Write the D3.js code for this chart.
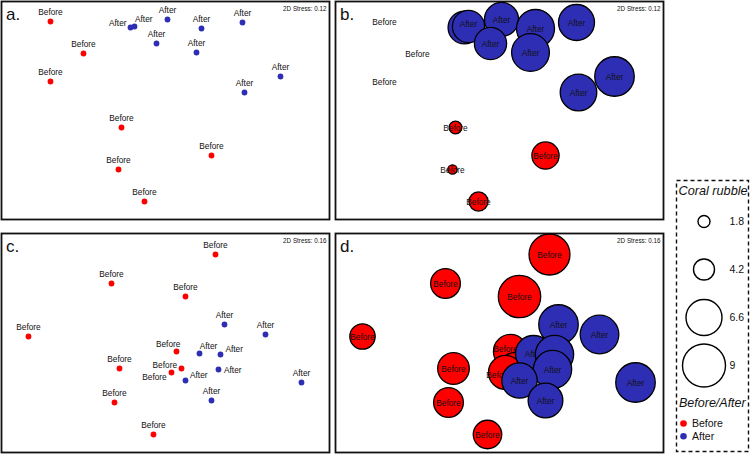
<!DOCTYPE html>
<html><head><meta charset="utf-8">
<script src="https://cdn.jsdelivr.net/npm/d3@7"></script>
<style>body{margin:0;background:#fff}svg{display:block}text{font-family:"Liberation Sans",Arial,sans-serif}</style>
</head><body>
<svg id="chart" width="750" height="454"></svg>
<script>
// ---- Data (nMDS coordinates, estimated from figure) ----
const groups = ["Before","After"];
// Top row (panels a & b): MDS ordination, stress 0.12
const topGroup = ["Before","Before","Before","Before","Before","Before","Before",
                  "After","After","After","After","After","After","After","After","After"];
const topMDS1 = [-1.15,-0.82,-1.15,-0.44,0.46,-0.47,-0.21, -0.35,-0.31,0.02,-0.09,0.36,0.31,0.77,1.15,0.79];
const topMDS2 = [0.89,0.57,0.29,-0.17,-0.45,-0.59,-0.91, 0.83,0.84,0.91,0.67,0.82,0.58,0.88,0.34,0.18];
const topRubble = [0,0,0,2.0,5.2,1.4,3.7, 6.1,6.0,6.3,6.0,7.3,7.2,6.6,7.8,6.8];
// Bottom row (panels c & d): MDS ordination, stress 0.16
const botGroup = ["Before","Before","Before","Before","Before","Before","Before","Before","Before","Before",
                  "After","After","After","After","After","After","After","After"];
const botMDS1 = [0.50,-0.54,0.20,-1.37,0.11,-0.46,0.16,0.06,-0.51,-0.12, 0.59,1.00,0.34,0.55,0.53,0.20,1.36,0.46];
const botMDS2 = [0.88,0.59,0.46,0.06,-0.09,-0.26,-0.26,-0.30,-0.60,-0.92, 0.18,0.08,-0.11,-0.12,-0.27,-0.38,-0.40,-0.58];
const botRubble = [8.3,5.6,8.8,4.9,6.3,5.9,6.0,6.3,5.6,5.4, 7.8,7.5,6.6,7.4,7.4,6.5,7.8,6.4];
const stressLabels = ["2D Stress: 0.12","2D Stress: 0.12","2D Stress: 0.16","2D Stress: 0.16"];
const panelLetters = ["a.","b.","c.","d."];
const legendSizes = [1.8,4.2,6.6,9];
const legendTitle = "Coral rubble";
const legendGroupTitle = "Before/After";

// ---- Styling / layout ----
const colors = {Before:"#ff0000", After:"#2e2eb4"};
const svg = d3.select("#chart");
const rScale = d3.scaleLinear().domain([0,1.8,4.2,6.6,9]).range([0,6,10.5,18,21.5]);

// label nudges (pixels) for crowded points: [dx, dy of label centre]
const nudgeA = {7:[-12.7,-4.7], 8:[9.3,-8]};
const nudgeB = {7:[0.5,4.7], 8:[0,-3]};
const nudgeC = {4:[-8.3,-7.3], 6:[-16.7,-4], 7:[-17,4], 12:[9,-7.7], 13:[13.7,-5.7], 14:[14.3,0], 15:[13.3,-5.7]};
const nudgeD = {4:[-5,-2.5], 6:[-1.7,-2.8], 7:[-7,2.2]};

const panels = [
  {x:1.5, y:1.5, w:328, h:218, g:topGroup, m1:topMDS1, m2:topMDS2, size:null, nudge:nudgeA},
  {x:335.5, y:1.5, w:328, h:218, g:topGroup, m1:topMDS1, m2:topMDS2, size:topRubble, nudge:nudgeB},
  {x:1.5, y:233.5, w:328, h:219, g:botGroup, m1:botMDS1, m2:botMDS2, size:null, nudge:nudgeC},
  {x:335.5, y:233.5, w:328, h:219, g:botGroup, m1:botMDS1, m2:botMDS2, size:botRubble, nudge:nudgeD}
];

panels.forEach((p,i)=>{
  const g = svg.append("g").attr("transform",`translate(${p.x},${p.y})`);
  const xs = d3.scaleLinear().domain([-1.64,1.64]).range([0,328]);
  const ys = d3.scaleLinear().domain([1.09,-1.09]).range([0,218]);
  g.append("rect").attr("width",p.w).attr("height",p.h).attr("fill","#fff")
    .attr("stroke","#111").attr("stroke-width",1.8);
  const data = p.m1.map((v,k)=>({k, grp:p.g[k], x:xs(v), y:ys(p.m2[k]), s:p.size?p.size[k]:null}));
  const order = p.size ? data.filter(d=>d.grp==="Before").concat(data.filter(d=>d.grp==="After")) : data;
  order.forEach(d=>{
    const n = p.nudge[d.k] || [0,0];
    if(p.size){
      if(d.s>0){
        g.append("circle").attr("cx",d.x).attr("cy",d.y).attr("r",rScale(d.s))
          .attr("fill",colors[d.grp]).attr("stroke","#000").attr("stroke-width",1.3);
      }
      g.append("text").attr("x",d.x+n[0]).attr("y",d.y+n[1]+3).attr("text-anchor","middle")
        .attr("font-size",8.3).attr("fill","#111").text(d.grp);
    } else {
      g.append("circle").attr("cx",d.x).attr("cy",d.y).attr("r",2.9).attr("fill",colors[d.grp]);
      const cy = (d.k in p.nudge) ? n[1] : -9.4;
      g.append("text").attr("x",d.x+n[0]).attr("y",d.y+cy+3).attr("text-anchor","middle")
        .attr("font-size",8.3).attr("fill","#111").text(d.grp);
    }
  });
  g.append("text").attr("x",p.w-3).attr("y",9).attr("text-anchor","end")
    .attr("font-size",6.3).attr("fill","#111").text(stressLabels[i]);
  g.append("text").attr("x",4.5).attr("y",18).attr("font-size",17).attr("fill","#111").text(panelLetters[i]);
});

// ---- Legend ----
const lg = svg.append("g");
lg.append("rect").attr("x",676.5).attr("y",180.5).attr("width",72).attr("height",271)
  .attr("fill","none").attr("stroke","#111").attr("stroke-width",1.4).attr("stroke-dasharray","4,3");
lg.append("text").attr("x",678.5).attr("y",194.5).attr("font-size",12.7).attr("font-style","italic")
  .attr("fill","#111").text(legendTitle);
const legY = d3.scalePoint().domain(legendSizes).range([221.5,365.5]);
legendSizes.forEach(v=>{
  lg.append("circle").attr("cx",704).attr("cy",legY(v)).attr("r",rScale(v))
    .attr("fill","#fff").attr("stroke","#000").attr("stroke-width",1.4);
  lg.append("text").attr("x",729.5).attr("y",legY(v)+3.8).attr("font-size",10.5).attr("fill","#111").text(v);
});
lg.append("text").attr("x",679).attr("y",407).attr("font-size",12.5).attr("font-style","italic")
  .attr("fill","#111").text(legendGroupTitle);
groups.forEach((grp,i)=>{
  const y = 423.5 + i*12.7;
  lg.append("circle").attr("cx",683.5).attr("cy",y).attr("r",3.3).attr("fill",colors[grp]);
  lg.append("text").attr("x",692).attr("y",y+3.8).attr("font-size",10.5).attr("fill","#111").text(grp);
});
</script>
</body></html>
